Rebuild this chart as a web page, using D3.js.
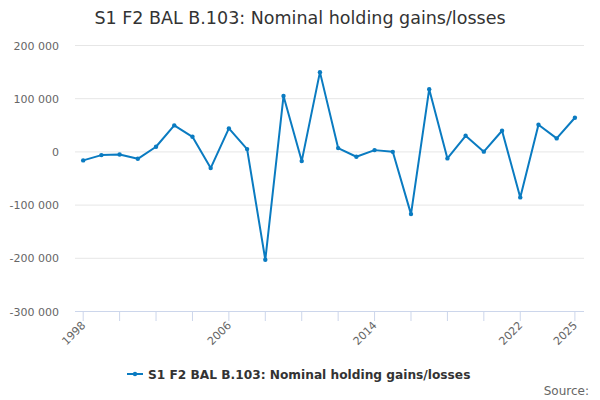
<!DOCTYPE html>
<html>
<head>
<meta charset="utf-8">
<script src="https://cdn.jsdelivr.net/npm/d3@7"></script>
<style>
	body { margin: 0; background: #fff; }
	svg { font-family: "DejaVu Sans", sans-serif; }
</style>
</head>
<body>
<svg id="chart" width="600" height="400"></svg>
<script>
// Chart data
const years = d3.range( 1998, 2026 );
const values = [
	-16900, -7000, -5700, -13900, 8700, 48900, 27400, -31400, 43200, 4300,
	-203800, 104000, -18200, 149000, 6200, -10100, 2400, -800, -117900, 117000,
	-13200, 29400, -500, 38800, -86500, 50100, 24400, 63200,
];
const yTicks = [ -300000, -200000, -100000, 0, 100000, 200000 ];
const xTicks = [ 1998, 2000, 2002, 2004, 2006, 2008, 2010, 2012, 2014, 2016, 2018, 2020, 2022, 2025 ];
const xLabels = [ 1998, 2006, 2014, 2022, 2025 ];
const title = 'S1 F2 BAL B.103: Nominal holding gains/losses';
const seriesName = 'S1 F2 BAL B.103: Nominal holding gains/losses';

const color = '#0a7bc1';
const svg = d3.select( '#chart' );
const plot = { left: 75, right: 584, top: 45, bottom: 311 };

const x = d3.scaleLinear()
	.domain( [ 1997.55, 2025.5 ] )
	.range( [ plot.left, plot.right ] );
const y = d3.scaleLinear()
	.domain( [ -300000, 200000 ] )
	.range( [ plot.bottom, plot.top ] );

const fmt = ( v ) => d3.format( ',' )( v ).replace( /,/g, ' ' ).replace( '−', '-' );

// gridlines
svg.append( 'g' )
	.selectAll( 'line' )
	.data( yTicks.filter( ( t ) => t !== -300000 ) )
	.join( 'line' )
	.attr( 'x1', plot.left )
	.attr( 'x2', plot.right )
	.attr( 'y1', ( d ) => y( d ) + 0.5 )
	.attr( 'y2', ( d ) => y( d ) + 0.5 )
	.attr( 'stroke', '#e6e6e6' )
	.attr( 'stroke-width', 1 );

// y labels
svg.append( 'g' )
	.selectAll( 'text' )
	.data( yTicks )
	.join( 'text' )
	.attr( 'x', 59 )
	.attr( 'y', ( d ) => y( d ) + 4.5 )
	.attr( 'text-anchor', 'end' )
	.attr( 'font-size', 11 )
	.attr( 'fill', '#666' )
	.text( fmt );

// x axis
svg.append( 'line' )
	.attr( 'x1', plot.left )
	.attr( 'x2', plot.right )
	.attr( 'y1', plot.bottom + 0.5 )
	.attr( 'y2', plot.bottom + 0.5 )
	.attr( 'stroke', '#ccd6eb' );

svg.append( 'g' )
	.selectAll( 'line' )
	.data( xTicks )
	.join( 'line' )
	.attr( 'x1', ( d ) => x( d ) )
	.attr( 'x2', ( d ) => x( d ) )
	.attr( 'y1', plot.bottom )
	.attr( 'y2', plot.bottom + 10 )
	.attr( 'stroke', '#ccd6eb' );

svg.append( 'g' )
	.selectAll( 'text' )
	.data( xLabels )
	.join( 'text' )
	.attr( 'transform', ( d ) => `translate(${ x( d ) + 3 },${ plot.bottom + 15 }) rotate(-45)` )
	.attr( 'text-anchor', 'end' )
	.attr( 'font-size', 11 )
	.attr( 'fill', '#666' )
	.text( ( d ) => d );

// series
const line = d3.line()
	.x( ( d, i ) => x( years[ i ] ) )
	.y( ( d ) => y( d ) );

svg.append( 'path' )
	.datum( values )
	.attr( 'd', line )
	.attr( 'fill', 'none' )
	.attr( 'stroke', color )
	.attr( 'stroke-width', 2 )
	.attr( 'stroke-linejoin', 'round' );

svg.append( 'g' )
	.selectAll( 'circle' )
	.data( values )
	.join( 'circle' )
	.attr( 'cx', ( d, i ) => x( years[ i ] ) )
	.attr( 'cy', ( d ) => y( d ) )
	.attr( 'r', 2.2 )
	.attr( 'fill', color );

// title
svg.append( 'text' )
	.attr( 'x', 300 )
	.attr( 'y', 24 )
	.attr( 'text-anchor', 'middle' )
	.attr( 'font-size', 17.5 )
	.attr( 'fill', '#333' )
	.text( title );

// legend
const legend = svg.append( 'g' ).attr( 'transform', 'translate(127,374)' );
legend.append( 'line' )
	.attr( 'x1', 0 )
	.attr( 'x2', 16 )
	.attr( 'y1', 0 )
	.attr( 'y2', 0 )
	.attr( 'stroke', color )
	.attr( 'stroke-width', 2 );
legend.append( 'circle' )
	.attr( 'cx', 8 )
	.attr( 'cy', 0 )
	.attr( 'r', 2.2 )
	.attr( 'fill', color );
legend.append( 'text' )
	.attr( 'x', 21 )
	.attr( 'y', 4.5 )
	.attr( 'font-size', 12.2 )
	.attr( 'font-weight', 'bold' )
	.attr( 'fill', '#333' )
	.text( seriesName );

// credits
svg.append( 'text' )
	.attr( 'x', 589 )
	.attr( 'y', 395 )
	.attr( 'text-anchor', 'end' )
	.attr( 'font-size', 12 )
	.attr( 'fill', '#666' )
	.text( 'Source:' );
</script>
</body>
</html>
